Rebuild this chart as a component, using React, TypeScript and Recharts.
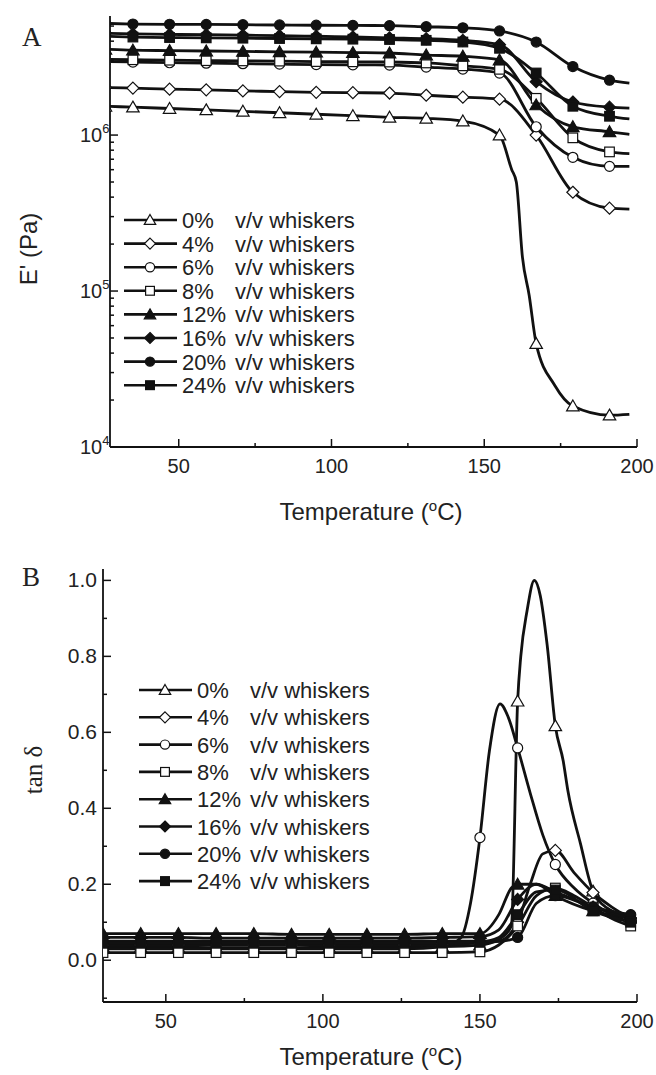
import React from 'react'
import { LineChart, Line, XAxis, YAxis, Legend } from 'recharts'

const labels = ['0%', '4%', '6%', '8%', '12%', '16%', '20%', '24%']
const shapes = ['triangle', 'diamond', 'circle', 'square', 'triangle', 'diamond', 'circle', 'square']
const filled = [false, false, false, false, true, true, true, true]

// panel A : storage modulus E' (Pa) vs temperature
const markersA = [26, 35, 47, 59, 71, 83, 95, 107, 119, 131, 143, 155, 167, 179, 191]
const tempA = [26, 35, 47, 59, 71, 83, 95, 107, 119, 131, 143, 155, 167, 179, 191, 197.5]
const tempA0 = [26, 35, 47, 59, 71, 83, 95, 107, 119, 131, 143, 155, 159, 160.5, 162.5, 164.7, 167, 173, 179, 191, 197.5]
const modA0 = [1.53e6, 1.51e6, 1.48e6, 1.45e6, 1.42e6, 1.39e6, 1.36e6, 1.33e6, 1.3e6, 1.28e6, 1.23e6, 1.0e6, 6.0e5, 5.0e5, 1.65e5, 9.4e4, 4.6e4, 2.5e4, 1.83e4, 1.6e4, 1.62e4]
const modA4 = [2.02e6, 2.0e6, 1.97e6, 1.95e6, 1.92e6, 1.9e6, 1.88e6, 1.87e6, 1.86e6, 1.8e6, 1.75e6, 1.7e6, 1.0e6, 4.3e5, 3.4e5, 3.35e5]
const modA6 = [2.96e6, 2.94e6, 2.91e6, 2.89e6, 2.87e6, 2.85e6, 2.83e6, 2.82e6, 2.81e6, 2.73e6, 2.65e6, 2.5e6, 1.13e6, 7.2e5, 6.3e5, 6.3e5]
const modA8 = [3.06e6, 3.04e6, 3.02e6, 3.0e6, 2.99e6, 2.98e6, 2.96e6, 2.95e6, 2.94e6, 2.9e6, 2.78e6, 2.64e6, 1.72e6, 9.6e5, 7.8e5, 7.6e5]
const modA12 = [3.55e6, 3.5e6, 3.48e6, 3.46e6, 3.44e6, 3.42e6, 3.4e6, 3.38e6, 3.36e6, 3.26e6, 3.2e6, 3.03e6, 1.56e6, 1.13e6, 1.05e6, 1.01e6]
const modA16 = [4.5e6, 4.45e6, 4.42e6, 4.4e6, 4.37e6, 4.34e6, 4.3e6, 4.26e6, 4.2e6, 4.15e6, 4.05e6, 3.8e6, 2.2e6, 1.63e6, 1.51e6, 1.49e6]
const modA20 = [5.2e6, 5.15e6, 5.13e6, 5.12e6, 5.1e6, 5.08e6, 5.06e6, 5.05e6, 5.03e6, 4.95e6, 4.87e6, 4.65e6, 3.95e6, 2.75e6, 2.25e6, 2.15e6]
const modA24 = [4.3e6, 4.25e6, 4.22e6, 4.2e6, 4.18e6, 4.16e6, 4.14e6, 4.12e6, 4.1e6, 4.05e6, 3.95e6, 3.6e6, 2.5e6, 1.53e6, 1.32e6, 1.27e6]

// panel B : tan delta vs temperature
const markersB = [30, 42, 54, 66, 78, 90, 102, 114, 126, 138, 150, 162, 174, 186, 198]
const baseB = [30, 42, 54, 66, 78, 90, 102, 114, 126, 138, 150]
const baseB6 = [30, 42, 54, 66, 78, 90, 102, 114, 126, 138]
const tailB0 = [156, 160, 162, 163, 165, 167.3, 169.2, 171.4, 174, 176.5, 178, 182, 186, 192, 198]
const tanB0 = [0.035, 0.034, 0.034, 0.033, 0.033, 0.033, 0.034, 0.034, 0.035, 0.036, 0.04, 0.055, 0.09, 0.682, 0.8, 0.92, 1.0, 0.96, 0.83, 0.617, 0.525, 0.446, 0.307, 0.182, 0.13, 0.115]
const tailB4 = [156, 162, 166, 170, 174, 180, 186, 192, 198]
const tanB4 = [0.04, 0.04, 0.04, 0.04, 0.04, 0.04, 0.04, 0.04, 0.04, 0.042, 0.045, 0.05, 0.1, 0.2, 0.28, 0.289, 0.23, 0.178, 0.14, 0.11]
const tailB6 = [144, 147, 150, 153, 156.4, 159, 162, 166, 170, 174, 180, 186, 192, 198]
const tanB6 = [0.03, 0.03, 0.03, 0.03, 0.03, 0.03, 0.03, 0.03, 0.03, 0.035, 0.06, 0.15, 0.323, 0.55, 0.675, 0.64, 0.559, 0.44, 0.33, 0.252, 0.19, 0.15, 0.12, 0.1]
const tailB8 = [156, 162, 168, 174, 180, 186, 192, 198]
const tanB8 = [0.02, 0.02, 0.02, 0.02, 0.02, 0.02, 0.02, 0.02, 0.02, 0.02, 0.022, 0.04, 0.09, 0.17, 0.19, 0.17, 0.14, 0.11, 0.09]
const tailB12 = [156, 160, 162, 168, 174, 186, 198]
const tanB12 = [0.07, 0.07, 0.07, 0.07, 0.07, 0.068, 0.068, 0.068, 0.068, 0.07, 0.07, 0.12, 0.19, 0.2, 0.2, 0.17, 0.13, 0.11]
const tailB16 = [156, 162, 168, 174, 186, 198]
const tanB16 = [0.06, 0.06, 0.06, 0.058, 0.058, 0.058, 0.058, 0.058, 0.058, 0.06, 0.062, 0.08, 0.16, 0.2, 0.18, 0.14, 0.11]
const tailB20 = [156, 162, 168, 174, 186, 198]
const tanB20 = [0.05, 0.05, 0.05, 0.05, 0.05, 0.05, 0.05, 0.05, 0.05, 0.05, 0.05, 0.05, 0.06, 0.15, 0.17, 0.14, 0.12]
const tailB24 = [156, 162, 168, 174, 186, 198]
const tanB24 = [0.045, 0.045, 0.045, 0.045, 0.045, 0.045, 0.045, 0.045, 0.045, 0.046, 0.048, 0.06, 0.12, 0.18, 0.185, 0.13, 0.1]

const zip = (ts: number[], vs: number[]) => ts.map((T, i) => ({ T, v: vs[i] }))

const seriesA = [
  zip(tempA0, modA0), zip(tempA, modA4), zip(tempA, modA6), zip(tempA, modA8),
  zip(tempA, modA12), zip(tempA, modA16), zip(tempA, modA20), zip(tempA, modA24),
]
const seriesB = [
  zip([...baseB, ...tailB0], tanB0), zip([...baseB, ...tailB4], tanB4), zip([...baseB6, ...tailB6], tanB6),
  zip([...baseB, ...tailB8], tanB8), zip([...baseB, ...tailB12], tanB12), zip([...baseB, ...tailB16], tanB16),
  zip([...baseB, ...tailB20], tanB20), zip([...baseB, ...tailB24], tanB24),
]

const xTicksA = [50, 75, 100, 125, 150, 175, 200]
const yTicksA = [1e4, 2e4, 3e4, 4e4, 5e4, 6e4, 7e4, 8e4, 9e4, 1e5, 2e5, 3e5, 4e5, 5e5, 6e5, 7e5, 8e5, 9e5, 1e6, 2e6, 3e6, 4e6, 5e6]
const xTicksB = [50, 75, 100, 125, 150, 175, 200]
const yTicksB = [-0.1, 0, 0.1, 0.2, 0.3, 0.4, 0.5, 0.6, 0.7, 0.8, 0.9, 1.0]

const SANS = 'Liberation Sans, Arial, Helvetica, sans-serif'
const SERIF = 'Liberation Serif, Times New Roman, serif'

function Marker({ shape, solid, cx, cy, s }: { shape: string; solid: boolean; cx: number; cy: number; s: number }) {
  const fill = solid ? '#111' : '#fff'
  const common = { fill, stroke: '#111', strokeWidth: 1.2 }
  if (shape === 'circle') return <circle cx={cx} cy={cy} r={s * 0.42} {...common} />
  if (shape === 'square') return <rect x={cx - s * 0.4} y={cy - s * 0.4} width={s * 0.8} height={s * 0.8} {...common} />
  if (shape === 'diamond')
    return <polygon points={`${cx},${cy - s / 2} ${cx + s / 2},${cy} ${cx},${cy + s / 2} ${cx - s / 2},${cy}`} {...common} />
  return <polygon points={`${cx},${cy - s * 0.5} ${cx + s * 0.52},${cy + s * 0.4} ${cx - s * 0.52},${cy + s * 0.4}`} {...common} />
}

const dotFor = (i: number, marks: number[]) => (p: any) => {
  if (p.cx == null || p.cy == null || !marks.includes(p.payload.T)) return <g key={`d${i}-${p.index}`} />
  return (
    <g key={`d${i}-${p.index}`}>
      <Marker shape={shapes[i]} solid={filled[i]} cx={p.cx} cy={p.cy} s={12} />
    </g>
  )
}

// inward tick marks on all four sides, labels only on bottom / left
const xTick = (side: 'bottom' | 'top', major: (v: number) => boolean) => (p: any) => {
  const v = p.payload.value
  const big = major(v)
  const len = big ? 8 : 4
  const dir = side === 'bottom' ? -1 : 1
  return (
    <g>
      <line x1={p.x} y1={p.y} x2={p.x} y2={p.y + dir * len} stroke="#111" strokeWidth={1.5} />
      {side === 'bottom' && big && (
        <text x={p.x} y={p.y + 26} textAnchor="middle" fontSize={20} fontFamily={SANS} fill="#222">{v}</text>
      )}
    </g>
  )
}

const yTickLog = (side: 'left' | 'right') => (p: any) => {
  const v = p.payload.value
  const e = Math.round(Math.log10(v))
  const big = Math.abs(Math.log10(v) - e) < 1e-6
  const len = big ? 8 : 4
  const dir = side === 'left' ? 1 : -1
  return (
    <g>
      <line x1={p.x} y1={p.y} x2={p.x + dir * len} y2={p.y} stroke="#111" strokeWidth={1.5} />
      {side === 'left' && big && (
        <text x={p.x - 30} y={p.y + 7} textAnchor="start" fontSize={20} fontFamily={SANS} fill="#222">
          10<tspan dy={-9} fontSize={13}>{e}</tspan>
        </text>
      )}
    </g>
  )
}

const yTickLin = (side: 'left' | 'right') => (p: any) => {
  const v = p.payload.value
  const k = Math.round(v * 10)
  const big = k >= 0 && k % 2 === 0
  const len = big ? 8 : 4
  const dir = side === 'left' ? 1 : -1
  return (
    <g>
      <line x1={p.x} y1={p.y} x2={p.x + dir * len} y2={p.y} stroke="#111" strokeWidth={1.5} />
      {side === 'left' && big && (
        <text x={p.x - 6} y={p.y + 7} textAnchor="end" fontSize={21} fontFamily={SANS} fill="#222">{(k / 10).toFixed(1)}</text>
      )}
    </g>
  )
}

function LegendBox({ rowGap }: { rowGap: number }) {
  return (
    <svg width={320} height={rowGap * 8 + 10} style={{ display: 'block' }}>
      {labels.map((l, i) => {
        const cy = 12 + i * rowGap
        return (
          <g key={l}>
            <line x1={2} y1={cy} x2={55} y2={cy} stroke="#111" strokeWidth={2.6} />
            <Marker shape={shapes[i]} solid={filled[i]} cx={28} cy={cy} s={11} />
            <text x={60} y={cy + 8} fontSize={22} fontFamily={SANS} fill="#222">{l}</text>
            <text x={113} y={cy + 8} fontSize={22} fontFamily={SANS} fill="#222">v/v whiskers</text>
          </g>
        )
      })}
    </svg>
  )
}

const axisLine = { stroke: '#111', strokeWidth: 1.8 }

function PanelA() {
  return (
    <LineChart width={656} height={560} margin={{ top: 16, right: 19, bottom: 53, left: 0 }}>
      <XAxis xAxisId="b" type="number" dataKey="T" domain={[27.5, 200]} allowDataOverflow ticks={xTicksA} interval={0}
        tickSize={0} tickMargin={0} axisLine={axisLine} tick={xTick('bottom', v => v % 50 === 0)} height={60} />
      <XAxis xAxisId="t" orientation="top" type="number" dataKey="T" domain={[27.5, 200]} allowDataOverflow ticks={xTicksA} interval={0}
        tickSize={0} tickMargin={0} axisLine={axisLine} tick={xTick('top', v => v % 50 === 0)} height={0} />
      <YAxis yAxisId="l" type="number" scale="log" domain={[1e4, 5.8e6]} allowDataOverflow ticks={yTicksA} interval={0}
        tickSize={0} tickMargin={0} axisLine={axisLine} tick={yTickLog('left')} width={110} />
      <YAxis yAxisId="r" orientation="right" type="number" scale="log" domain={[1e4, 5.8e6]} allowDataOverflow ticks={yTicksA} interval={0}
        tickSize={0} tickMargin={0} axisLine={axisLine} tick={yTickLog('right')} width={0} />
      <Legend layout="vertical" align="center" verticalAlign="middle" wrapperStyle={{ left: 122, top: 208, width: 320 }}
        content={() => <LegendBox rowGap={23.6} />} />
      {seriesA.map((d, i) => (
        <Line key={labels[i]} xAxisId="b" yAxisId="l" data={d} dataKey="v" type="monotone" stroke="#111" strokeWidth={2.8}
          dot={dotFor(i, markersA)} activeDot={false} isAnimationActive={false} />
      ))}
    </LineChart>
  )
}

function PanelB() {
  return (
    <LineChart width={656} height={515} margin={{ top: 9, right: 19, bottom: 13, left: 0 }}>
      <XAxis xAxisId="b" type="number" dataKey="T" domain={[30, 200]} allowDataOverflow ticks={xTicksB} interval={0}
        tickSize={0} tickMargin={0} axisLine={axisLine} tick={xTick('bottom', v => v % 50 === 0)} height={60} />
      <XAxis xAxisId="t" orientation="top" type="number" dataKey="T" domain={[30, 200]} allowDataOverflow ticks={xTicksB} interval={0}
        tickSize={0} tickMargin={0} axisLine={axisLine} tick={xTick('top', v => v % 50 === 0)} height={0} />
      <YAxis yAxisId="l" type="number" domain={[-0.11, 1.03]} allowDataOverflow ticks={yTicksB} interval={0}
        tickSize={0} tickMargin={0} axisLine={axisLine} tick={yTickLin('left')} width={103} />
      <YAxis yAxisId="r" orientation="right" type="number" domain={[-0.11, 1.03]} allowDataOverflow ticks={yTicksB} interval={0}
        tickSize={0} tickMargin={0} axisLine={axisLine} tick={yTickLin('right')} width={0} />
      <Legend layout="vertical" align="center" verticalAlign="middle" wrapperStyle={{ left: 137, top: 118, width: 320 }}
        content={() => <LegendBox rowGap={27.3} />} />
      {seriesB.map((d, i) => (
        <Line key={labels[i]} xAxisId="b" yAxisId="l" data={d} dataKey="v" type="monotone" stroke="#111" strokeWidth={2.8}
          dot={dotFor(i, markersB)} activeDot={false} isAnimationActive={false} />
      ))}
    </LineChart>
  )
}

export default function App() {
  const abs = (left: number, top: number): React.CSSProperties => ({ position: 'absolute', left, top })
  return (
    <div style={{ position: 'absolute', left: 0, top: 0, width: 656, height: 1075, background: '#fff', overflow: 'hidden' }}>
      <div style={abs(0, 0)}><PanelA /></div>
      <div style={abs(0, 560)}><PanelB /></div>
      <div style={{ ...abs(22, 22), fontFamily: SERIF, fontSize: 27, color: '#222' }}>A</div>
      <div style={{ ...abs(22, 562), fontFamily: SERIF, fontSize: 27, color: '#222' }}>B</div>
      <div style={{ position: 'absolute', left: 29, top: 249, transform: 'translate(-50%, -50%) rotate(-90deg)', whiteSpace: 'nowrap', fontFamily: SANS, fontSize: 24, color: '#222' }}>E' (Pa)</div>
      <div style={{ position: 'absolute', left: 34, top: 770, transform: 'translate(-50%, -50%) rotate(-90deg)', whiteSpace: 'nowrap', fontFamily: SERIF, fontSize: 25, color: '#222' }}>tan δ</div>
      <div style={{ position: 'absolute', left: 371, top: 511, transform: 'translate(-50%, -50%)', whiteSpace: 'nowrap', fontFamily: SANS, fontSize: 24, color: '#222' }}>
        Temperature (<sup style={{ fontSize: 15 }}>o</sup>C)
      </div>
      <div style={{ position: 'absolute', left: 371, top: 1056, transform: 'translate(-50%, -50%)', whiteSpace: 'nowrap', fontFamily: SANS, fontSize: 24, color: '#222' }}>
        Temperature (<sup style={{ fontSize: 15 }}>o</sup>C)
      </div>
    </div>
  )
}
